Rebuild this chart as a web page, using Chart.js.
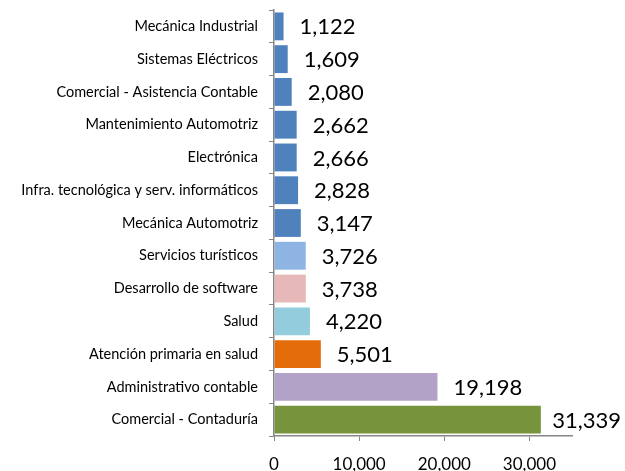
<!DOCTYPE html>
<html lang="es">
<head>
<meta charset="UTF-8">
<title>Carreras</title>
<script src="https://cdn.jsdelivr.net/npm/chart.js@4.4.1/dist/chart.umd.min.js"></script>
<style>
    html, body { margin: 0; padding: 0; background: #fff; }
    #wrap { width: 625px; height: 471px; position: relative; }
</style>
</head>
<body>
<div id="wrap"><canvas id="chart"></canvas></div>
<script>
const categories = [
    'Mecánica Industrial',
    'Sistemas Eléctricos',
    'Comercial - Asistencia Contable',
    'Mantenimiento Automotriz',
    'Electrónica',
    'Infra. tecnológica y serv. informáticos',
    'Mecánica Automotriz',
    'Servicios turísticos',
    'Desarrollo de software',
    'Salud',
    'Atención primaria en salud',
    'Administrativo contable',
    'Comercial - Contaduría'
];
const values = [1122, 1609, 2080, 2662, 2666, 2828, 3147, 3726, 3738, 4220, 5501, 19198, 31339];
const barColors = [
    '#4F81BD', '#4F81BD', '#4F81BD', '#4F81BD', '#4F81BD', '#4F81BD', '#4F81BD',
    '#8EB4E3', '#E6B9B8', '#93CDDD', '#E46C0A', '#B3A2C7', '#77933C'
];
const xTicks = [0, 10000, 20000, 30000];
const xMax = 35000;

const fmt = v => v.toLocaleString('en-US');

// value labels to the right of each bar
const valueLabels = {
    id: 'valueLabels',
    afterDatasetsDraw(chart) {
        const ctx = chart.ctx;
        const meta = chart.getDatasetMeta(0);
        ctx.save();
        ctx.font = '22px Lato';
        ctx.fillStyle = '#000';
        ctx.textBaseline = 'middle';
        ctx.textAlign = 'left';
        meta.data.forEach((bar, i) => {
            const txt = fmt(values[i]);
            const w = ctx.measureText(txt).width;
            let x = bar.x + 16;
            if (x + w > chart.width - 4) x = chart.width - 4 - w;
            ctx.fillText(txt, x, bar.y + 1);
        });
        ctx.restore();
    }
};

new Chart(document.getElementById('chart'), {
    type: 'bar',
    data: {
        labels: categories,
        datasets: [{
            data: values,
            backgroundColor: barColors,
            borderWidth: 0,
            barPercentage: 0.85,
            categoryPercentage: 1
        }]
    },
    options: {
        indexAxis: 'y',
        responsive: true,
        maintainAspectRatio: false,
        animation: false,
        layout: { padding: { top: 10, right: 53, left: 0, bottom: 0 } },
        plugins: {
            legend: { display: false },
            tooltip: { enabled: false }
        },
        scales: {
            x: {
                min: 0,
                max: xMax,
                afterBuildTicks(scale) {
                    scale.ticks = xTicks.map(v => ({ value: v }));
                },
                afterFit(scale) {
                    scale.height = 35;
                    scale.paddingLeft = 0;
                    scale.paddingRight = 0;
                },
                grid: {
                    drawOnChartArea: false,
                    drawTicks: true,
                    tickLength: 5,
                    color: '#868686'
                },
                border: { color: '#868686', width: 1.5 },
                ticks: {
                    color: '#000',
                    font: { family: 'Lato', size: 17 },
                    padding: 13,
                    maxRotation: 0,
                    callback: v => fmt(v)
                }
            },
            y: {
                afterFit(scale) {
                    scale.width = 274;
                    scale.paddingTop = 0;
                    scale.paddingBottom = 0;
                },
                grid: {
                    drawOnChartArea: false,
                    drawTicks: true,
                    tickLength: 5,
                    color: '#868686',
                    offset: true
                },
                border: { color: '#868686', width: 1.5 },
                ticks: {
                    color: '#000',
                    font: { family: 'Lato', size: 14.5 },
                    padding: 11
                }
            }
        }
    },
    plugins: [valueLabels]
});
</script>
</body>
</html>
